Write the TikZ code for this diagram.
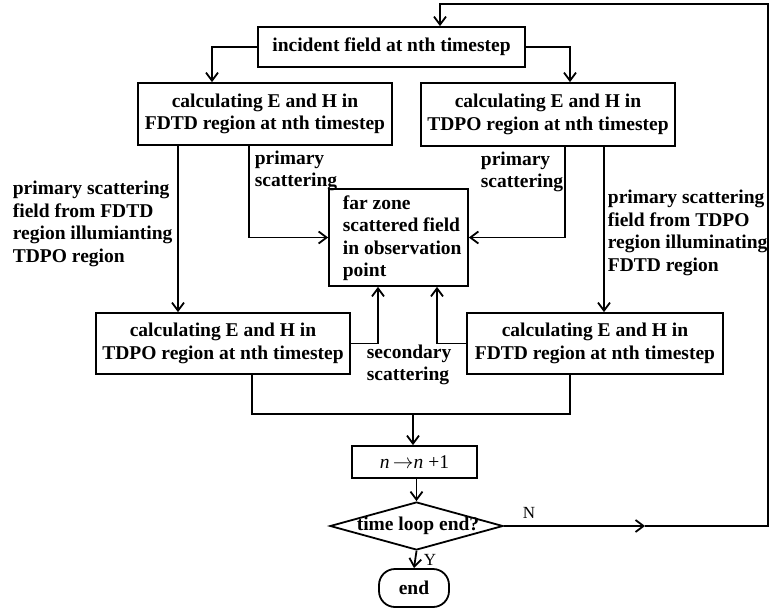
\documentclass[tikz,border=0pt]{standalone}
\usepackage{fontspec}
\setmainfont{Liberation Serif}
\usetikzlibrary{arrows.meta,shapes.geometric}
\begin{document}
\begin{tikzpicture}[x=1pt,y=1pt,
  line width=1.8pt,
  txt/.style={font=\fontsize{19.5}{22.5}\selectfont\bfseries},
  box/.style={draw, txt, align=center, inner sep=0pt},
  lbl/.style={txt, align=left, inner sep=0pt, anchor=west},
  small/.style={font=\fontsize{17}{20}\selectfont, inner sep=0pt},
  arr/.style={-{Straight Barb[length=8pt,width=12pt]}}]
\useasboundingbox (0,0) rectangle (770,-610);

% boxes
\node[box, minimum width=267, minimum height=40] (inc) at (391.5,-47) {incident field at nth timestep};
\node[box, minimum width=254, minimum height=62] (b1) at (265,-114) {calculating E and H in\\FDTD region at nth timestep};
\node[box, minimum width=254, minimum height=63] (b2) at (548,-114.5) {calculating E and H in\\TDPO region at nth timestep};
\node[draw, minimum width=139, minimum height=97, inner sep=0] (far) at (398.5,-237.5) {};
\node[lbl] (fartext) at (342,-238) {far zone\\scattered field\\in observation\\point};
\node[box, minimum width=254, minimum height=61] (b3) at (223,-343.5) {calculating E and H in\\TDPO region at nth timestep};
\node[box, minimum width=256, minimum height=61] (b4) at (595,-343.5) {calculating E and H in\\FDTD region at nth timestep};
\node[draw, inner sep=0, minimum width=125, minimum height=32, font=\fontsize{19.5}{22.5}\selectfont] (nb) at (414.5,-462) {\textit{n}\,$\rightarrow$\textit{n}\ +1};
\node[draw, diamond, inner sep=0, minimum width=173, minimum height=48] (dia) at (416.5,-526) {};
\node[txt, inner sep=0] (diatext) at (418,-526) {time loop end?};
\node[draw, txt, rounded corners=16pt, minimum width=70, minimum height=38, inner sep=0] (end) at (414,-588) {end};

% labels
\node[lbl] (l1) at (12,-224) {primary scattering\\field from FDTD\\region illumianting\\TDPO region};
\node[lbl] (l2) at (254,-171) {primary\\scattering};
\node[lbl] (l3) at (480,-172) {primary\\scattering};
\node[lbl] (l4) at (607,-233) {primary scattering\\field from TDPO\\region illuminating\\FDTD region};
\node[lbl] (l5) at (366,-365) {secondary\\scattering};
\node[small, anchor=west] (nlab) at (522,-513) {N};
\node[small, anchor=west] (ylab) at (423,-560) {Y};

% connectors
\draw[arr] (inc.west) -| ([xshift=-53]b1.north);
\draw[arr] (inc.east) -| ([xshift=22]b2.north);
\draw[arr] ([xshift=-87]b1.south) -- ([xshift=-45]b3.north);
\draw[arr] ([xshift=-16]b1.south) |- (far.west);
\draw[arr] ([xshift=17]b2.south) |- (far.east);
\draw[arr] ([xshift=56]b2.south) -- ([xshift=9]b4.north);
\draw[arr] (b3.east) -| ([xshift=-20.5]far.south);
\draw[arr] (b4.west) -| ([xshift=38.5]far.south);
\coordinate (jn) at (413,-414);
\draw ([xshift=29]b3.south) |- (jn) -| ([xshift=-25]b4.south);
\draw[arr] (jn) -- (jn |- nb.north);
\draw[arr] (nb.south -| dia.north) -- (dia.north);
\draw[arr] (dia.south) -- (end.north);
\coordinate (nmid) at (645,-526);
\coordinate (rc) at (768,-526);
\coordinate (tc) at (440,-4);
\draw[arr] (dia.east) -- (nmid);
\draw[arr] (nmid) -- (rc) |- (tc) -- (tc |- inc.north);
\end{tikzpicture}
\end{document}
